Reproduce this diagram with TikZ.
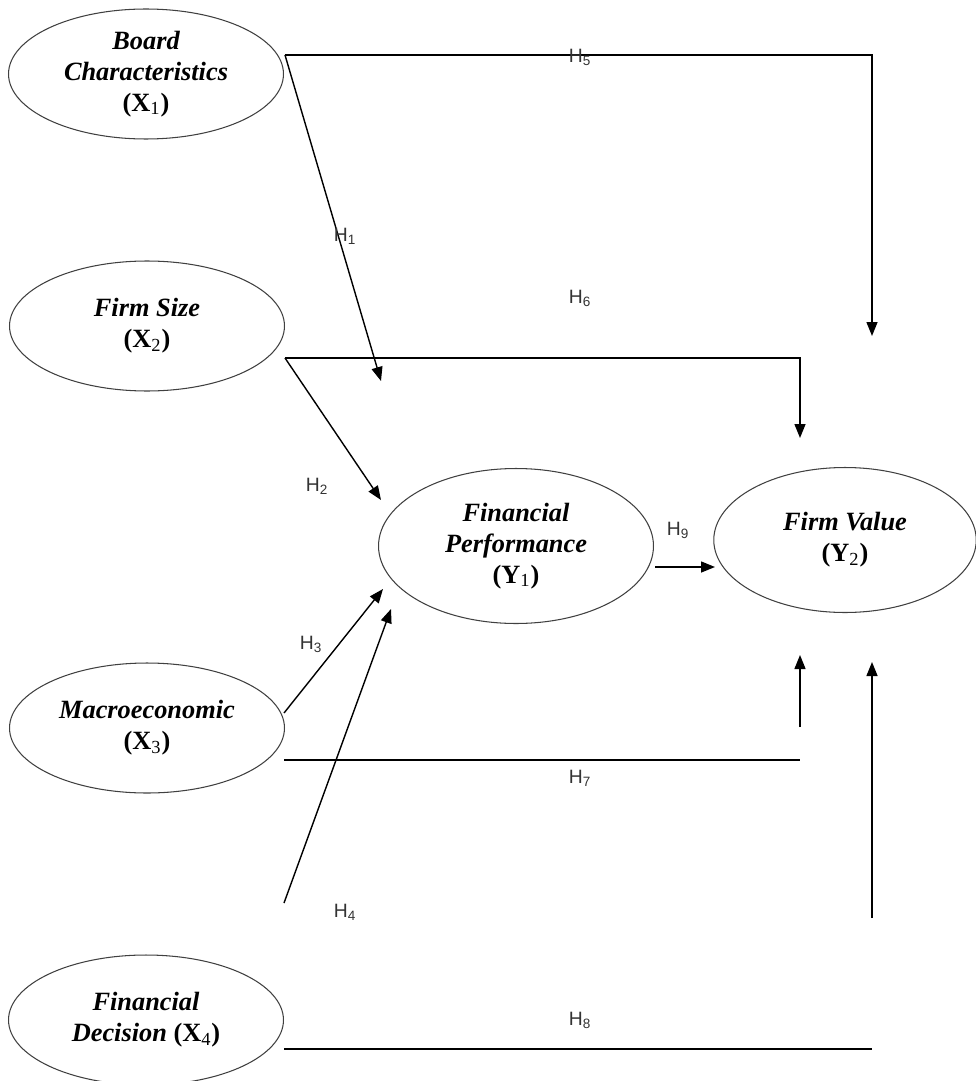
\documentclass[tikz,border=0pt]{standalone}
\usepackage{fontspec}
\setmainfont{Liberation Serif}
\newfontfamily\labfont{Liberation Sans}
\usetikzlibrary{shapes.geometric,arrows.meta}

\tikzset{
    construct/.style={draw=black!75, line width=0.6pt, ellipse, minimum width=5.5cm, minimum height=2.6cm,
        inner sep=0pt, align=center, font=\fontsize{15}{17.5}\selectfont\bfseries\itshape},
    hyp/.style={font=\labfont\fontsize{11}{13}\selectfont, text=black!80, inner sep=1pt},
    link/.style={line width=0.8pt, -{Triangle[length=2.8mm,width=2.2mm]}},
    bare/.style={line width=0.8pt}
}
\newcommand{\vsub}[1]{\textsubscript{\mdseries #1}}

\begin{document}
\begin{tikzpicture}[x=0.02cm, y=-0.02cm]
    \useasboundingbox (0,0) rectangle (976,1081);

    % Define nodes
    \node (x1) [construct] at (146,74) {Board\\Characteristics\\\textup{(X\vsub{1})}};
    \node (x2) [construct] at (147,326) {Firm Size\\\textup{(X\vsub{2})}};
    \node (x3) [construct] at (147,728) {Macroeconomic\\\textup{(X\vsub{3})}};
    \node (x4) [construct] at (146,1020) {Financial\\Decision \textup{(X\vsub{4})}};
    \node (y1) [construct, minimum height=3.1cm] at (516,546) {Financial\\Performance\\\textup{(Y\vsub{1})}};
    \node (y2) [construct, minimum width=5.25cm, minimum height=2.9cm] at (845,540) {Firm Value\\\textup{(Y\vsub{2})}};

    % Define corners and free ends
    \coordinate (b1) at (285,55);
    \coordinate (c5) at (872,55);
    \coordinate (e5) at (872,336);
    \coordinate (e1) at (381,381);
    \coordinate (b2) at (285,358);
    \coordinate (c6) at (800,358);
    \coordinate (e6) at (800,438);
    \coordinate (e2) at (381,500);
    \coordinate (b3) at (284,713);
    \coordinate (e3) at (383,589);
    \coordinate (b4) at (284,903);
    \coordinate (e4) at (391,609);
    \coordinate (b7) at (284,760);
    \coordinate (c7) at (800,760);
    \coordinate (a7) at (800,727);
    \coordinate (e7) at (800,655);
    \coordinate (b8) at (284,1049);
    \coordinate (c8) at (872,1049);
    \coordinate (a8) at (872,918);
    \coordinate (e8) at (872,662);
    \coordinate (b9) at (655,567);
    \coordinate (e9) at (715,567);

    % Define connections
    \draw[link] (b1) -- (c5) -- (e5);
    \draw[link] (b1) -- (e1);
    \draw[link] (b2) -- (c6) -- (e6);
    \draw[link] (b2) -- (e2);
    \draw[link] (b3) -- (e3);
    \draw[link] (b4) -- (e4);
    \draw[bare] (b7) -- (c7);
    \draw[link] (a7) -- (e7);
    \draw[bare] (b8) -- (c8);
    \draw[link] (a8) -- (e8);
    \draw[link] (b9) -- (e9);

    % Hypothesis labels
    \node (h1) [hyp] at (345,236) {H\textsubscript{1}};
    \node (h2) [hyp] at (317,486) {H\textsubscript{2}};
    \node (h3) [hyp] at (311,644) {H\textsubscript{3}};
    \node (h4) [hyp] at (345,912) {H\textsubscript{4}};
    \node (h5) [hyp] at (580,57) {H\textsubscript{5}};
    \node (h6) [hyp] at (580,298) {H\textsubscript{6}};
    \node (h7) [hyp] at (580,778) {H\textsubscript{7}};
    \node (h8) [hyp] at (580,1020) {H\textsubscript{8}};
    \node (h9) [hyp] at (678,530) {H\textsubscript{9}};

\end{tikzpicture}
\end{document}
